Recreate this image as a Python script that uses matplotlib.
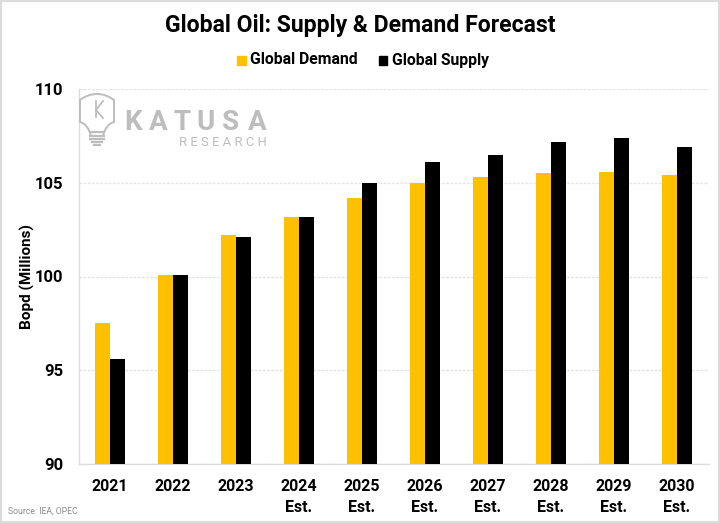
import matplotlib
matplotlib.use("Agg")
import matplotlib.pyplot as plt
from matplotlib.patches import Rectangle, PathPatch
from matplotlib.path import Path
import numpy as np

categories = ["2021", "2022", "2023", "2024\nEst.", "2025\nEst.", "2026\nEst.",
              "2027\nEst.", "2028\nEst.", "2029\nEst.", "2030\nEst."]
demand = [97.5, 100.1, 102.2, 103.2, 104.2, 105.0, 105.3, 105.5, 105.6, 105.4]
supply = [95.6, 100.1, 102.1, 103.2, 105.0, 106.1, 106.5, 107.2, 107.4, 106.9]
yticks = [90, 95, 100, 105, 110]

W, H = 720, 523
plt.rcParams["font.family"] = ["Roboto", "DejaVu Sans"]
fig = plt.figure(figsize=(W / 100, H / 100), dpi=100, facecolor="white")
L, R, T, B = 78.5, 708.5, 89, 464
ax = fig.add_axes([L / W, 1 - B / H, (R - L) / W, (B - T) / H])

x = np.arange(len(categories))
bw = 15 / 63
ax.bar(x - bw / 2, demand, bw, color="#FFC000", label="Global Demand", zorder=3)
ax.bar(x + bw / 2, supply, bw, color="#000000", label="Global Supply", zorder=3)

ax.set_xlim(-0.5, len(categories) - 0.5)
ax.set_ylim(90, 110)
ax.set_yticks(yticks)
ax.set_xticks(x)
ax.set_xticklabels(categories, fontsize=11.5, fontweight="bold", linespacing=1.5)
ax.tick_params(axis="y", length=0, pad=11, labelsize=12)
ax.tick_params(axis="x", length=0, pad=10.5)
for lab in ax.get_yticklabels():
    lab.set_fontweight("bold")
ax.grid(axis="y", color="#E4E4E4", lw=1, ls=(0, (2, 1)), zorder=0)
ax.set_axisbelow(True)
for s in ["top", "right"]:
    ax.spines[s].set_visible(False)
for s in ["left", "bottom"]:
    ax.spines[s].set_color("#DDDDDD")
    ax.spines[s].set_linewidth(1)
ax.set_ylabel("Bopd (Millions)", fontsize=11, fontweight="bold", labelpad=0)
ax.yaxis.set_label_coords((35 - L) / (R - L), 0.5)


def px(xp, yp):
    return xp / W, 1 - yp / H


fig.text(*px(360, 25.5), "Global Oil: Supply & Demand Forecast", ha="center", va="center",
         fontsize=16.6, fontweight="bold")

# legend
fig.patches.append(Rectangle(px(237, 65), 9 / W, 9 / H, transform=fig.transFigure, color="#FFC000"))
fig.patches.append(Rectangle(px(378.5, 65), 9 / W, 9 / H, transform=fig.transFigure, color="#000000"))
fig.text(*px(250.5, 60), "Global Demand", va="center", ha="left", fontsize=11.3, fontweight="bold")
fig.text(*px(392.5, 60), "Global Supply", va="center", ha="left", fontsize=11.3, fontweight="bold")

fig.text(*px(8, 511.5), "Source: IEA, OPEC", va="center", ha="left", fontsize=6.2, color="#8C8C8C")

# watermark
wm = "#BDBDBD"
for ch, xc in zip("KATUSA", [133, 158, 182, 206, 231, 257]):
    fig.text(*px(xc, 123), ch, ha="center", va="center", fontsize=20, fontweight="bold",
             color=wm, zorder=5)
fig.text(*px(267, 142.5), "R E S E A R C H", ha="right", va="center", fontsize=9.4, color=wm, zorder=5)

# light-bulb logo
bulb = Path(
    [px(91, 136), px(88, 124), px(80, 122), px(80, 110), px(80, 100), px(88, 94), px(97, 94),
     px(106, 94), px(114, 100), px(114, 110), px(114, 122), px(106, 124), px(103, 136)],
    [Path.MOVETO, Path.CURVE3, Path.CURVE3, Path.CURVE3, Path.CURVE3, Path.CURVE3, Path.CURVE3,
     Path.CURVE3, Path.CURVE3, Path.CURVE3, Path.CURVE3, Path.CURVE3, Path.CURVE3])
fig.patches.append(PathPatch(bulb, transform=fig.transFigure, fc="none", ec=wm, lw=1.4))
for y0, x0, x1 in [(132, 91, 103), (136, 90, 104), (139, 90, 104), (142, 92, 102), (145, 94, 100)]:
    fig.add_artist(plt.Line2D([x0 / W, x1 / W], [1 - y0 / H] * 2, color=wm, lw=1.6))
for xs, ys in [((96, 96), (101, 117)), ((96, 103), (110, 101)), ((96, 103), (110, 118))]:
    fig.add_artist(plt.Line2D(np.array(xs) / W, 1 - np.array(ys) / H, color=wm, lw=1.3))

# outer border
fig.patches.append(Rectangle((0, 0), 1, 1, transform=fig.transFigure, fc="none", ec="#DCDCDC", lw=3))

fig.savefig("out.png", dpi=100)
